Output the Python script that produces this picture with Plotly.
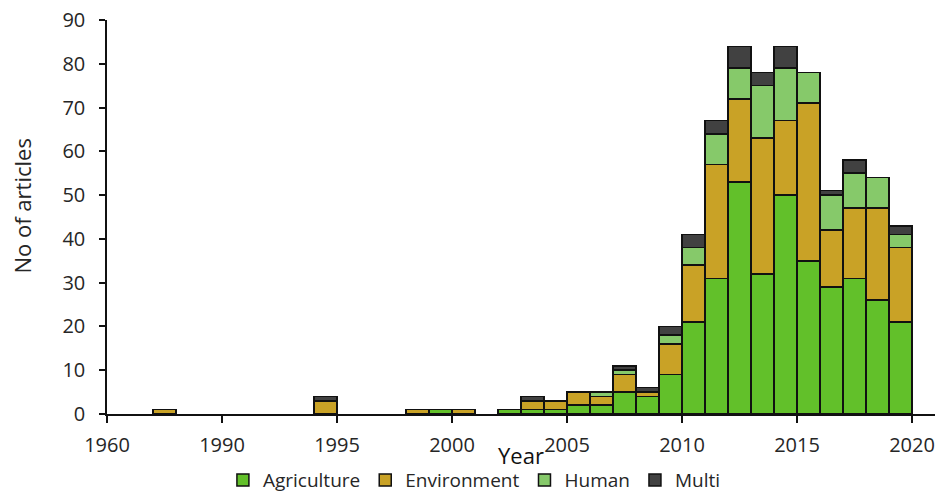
import plotly.graph_objects as go

# Data (year = left edge of each bar's year slot)
years = [1962, 1994, 1998, 1999, 2000, 2002, 2003, 2004, 2005, 2006, 2007, 2008,
         2009, 2010, 2011, 2012, 2013, 2014, 2015, 2016, 2017, 2018, 2019]
agriculture = [0, 0, 0, 1, 0, 1, 1, 1, 2, 2, 5, 4, 9, 21, 31, 53, 32, 50, 35, 29, 31, 26, 21]
environment = [1, 3, 1, 0, 1, 0, 2, 2, 3, 2, 4, 1, 7, 13, 26, 19, 31, 17, 36, 13, 16, 21, 17]
human = [0, 0, 0, 0, 0, 0, 0, 0, 0, 1, 1, 0, 2, 4, 7, 7, 12, 12, 7, 8, 8, 7, 3]
multi = [0, 1, 0, 0, 0, 0, 1, 0, 0, 0, 1, 1, 2, 3, 3, 5, 3, 5, 0, 1, 3, 0, 2]

tick_years = [1960, 1990, 1995, 2000, 2005, 2010, 2015, 2020]

# broken axis: years before 1985 are shifted so that 1960 sits at 1985
def axis_pos(y):
    return y + 25 if y < 1985 else y

xs = [axis_pos(y) + 0.5 for y in years]
tickvals = [axis_pos(y) for y in tick_years]

series = [
    ("Agriculture", agriculture, "#62c02a"),
    ("Environment", environment, "#c9a226"),
    ("Human", human, "#86c96a"),
    ("Multi", multi, "#414141"),
]

fig = go.Figure()
for name, vals, color in series:
    fig.add_trace(go.Bar(
        x=xs, y=[v if v else None for v in vals], name=name, width=1,
        marker=dict(color=color, line=dict(color="#111111", width=1.5)),
        customdata=years,
        hovertemplate="%{customdata}: %{y}<extra>" + name + "</extra>",
    ))

font_family = "Open Sans, DejaVu Sans, sans-serif"
txt = "#262626"

fig.update_layout(
    barmode="stack",
    width=951, height=492,
    margin=dict(l=107, r=16, t=20, b=78, autoexpand=False),
    paper_bgcolor="white", plot_bgcolor="white",
    font=dict(family=font_family, size=20, color=txt),
    showlegend=True,
    legend=dict(orientation="h", x=0.14, xanchor="left", y=-0.168, yanchor="middle",
                font=dict(size=19, color=txt), traceorder="normal",
                borderwidth=0, itemclick=False, itemdoubleclick=False),
    xaxis=dict(range=[1985, 2021], tickmode="array", tickvals=tickvals,
               ticktext=[str(t) for t in tick_years],
               showline=True, linecolor="#111111", linewidth=1.5,
               ticks="outside", ticklen=7, tickwidth=1.5, tickcolor="#111111",
               showgrid=False, zeroline=False, ticklabelstandoff=5,
               automargin=False,
               tickfont=dict(size=20, color=txt)),
    yaxis=dict(range=[0, 90], dtick=10, tick0=0,
               showline=True, linecolor="#111111", linewidth=1.5,
               ticks="outside", ticklen=6, tickwidth=1.5, tickcolor="#111111",
               showgrid=False, zeroline=False, ticklabelstandoff=10,
               automargin=False,
               tickfont=dict(size=20, color=txt)),
    annotations=[
        dict(text="Year", xref="paper", yref="paper", x=0.5, y=-0.104,
             xanchor="center", yanchor="middle", showarrow=False,
             font=dict(size=22, color="#111111")),
        dict(text="No of articles", xref="paper", yref="paper", x=-0.1027, y=0.529,
             xanchor="center", yanchor="middle", textangle=-90, showarrow=False,
             font=dict(size=22, color=txt)),
    ],
)

fig.write_html("out.html", config={"displayModeBar": False},
               post_script="document.body.style.margin='0';document.body.style.overflow='hidden';")
